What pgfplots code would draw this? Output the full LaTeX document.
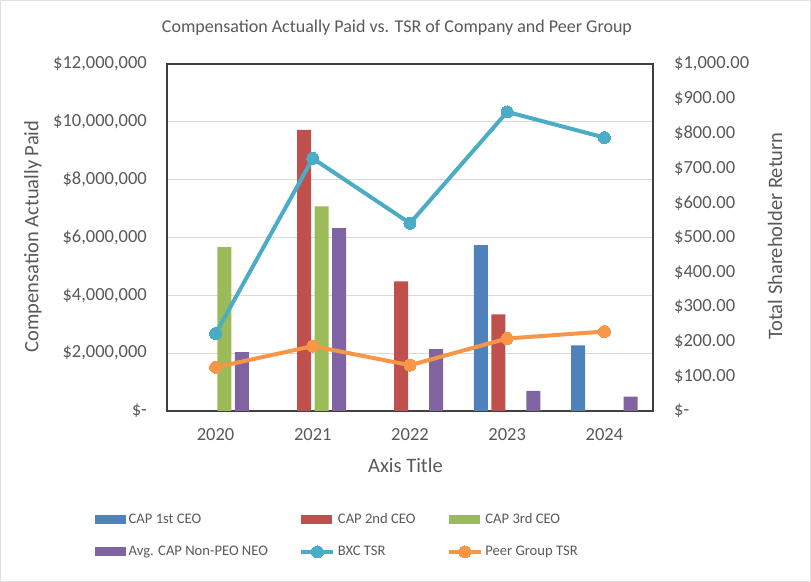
\documentclass[border=0pt]{standalone}
\usepackage{fontspec}
\setmainfont{Carlito}
\usepackage{pgfplots}
\pgfplotsset{compat=1.18}
\definecolor{cblue}{HTML}{4F81BD}
\definecolor{cred}{HTML}{C0504D}
\definecolor{cgreen}{HTML}{9BBB59}
\definecolor{cpurple}{HTML}{8064A2}
\definecolor{ccyan}{HTML}{4BACC6}
\definecolor{corange}{HTML}{F79646}
\definecolor{txt}{HTML}{595959}
\begin{document}
\begin{tikzpicture}
\pgfplotsset{
  base/.style={
    scale only axis, width=486bp, height=347bp, at={(0,0)}, anchor=south west,
    xmin=-0.5, xmax=4.5, major tick length=0pt, minor tick num=0,
    tick label style={font=\fontsize{18.5bp}{22bp}\selectfont, text=txt},
    scaled y ticks=false,
    xtick={0,1,2,3,4}, xticklabels={2020,2021,2022,2023,2024},
  },
  barleg/.style={legend image code/.code={\fill[##1] (0bp,-4.5bp) rectangle (31bp,4.5bp);}},
  lineleg/.style={legend image code/.code={\draw[mark repeat=2, mark phase=2, ##1] plot coordinates {(0bp,0bp) (16bp,0bp) (32bp,0bp)};}},
}
\begin{axis}[base,
  ymin=0, ymax=12000000,
  ytick={0,2000000,4000000,6000000,8000000,10000000,12000000},
  yticklabels={\$-,{\$2,000,000},{\$4,000,000},{\$6,000,000},{\$8,000,000},{\$10,000,000},{\$12,000,000}},
  ymajorgrids, grid style={draw=black!15, line width=1bp},
  axis line style={draw=black!75, line width=1.3bp},
  yticklabel style={anchor=east, inner sep=0pt, xshift=-20bp},
  xticklabel style={anchor=center, inner sep=0pt, yshift=-24bp},
  ybar, bar width=14bp,
]
\addplot[fill=cblue, draw=none, bar shift=-26.25bp] coordinates {(3,5740000) (4,2270000)};
\addplot[fill=cred, draw=none, bar shift=-8.75bp] coordinates {(1,9720000) (2,4480000) (3,3340000)};
\addplot[fill=cgreen, draw=none, bar shift=8.75bp] coordinates {(0,5670000) (1,7080000)};
\addplot[fill=cpurple, draw=none, bar shift=26.25bp] coordinates {(0,2040000) (1,6320000) (2,2140000) (3,700000) (4,500000)};
\end{axis}
\begin{axis}[base,
  ymin=0, ymax=1000,
  ytick={0,100,200,300,400,500,600,700,800,900,1000},
  yticklabels={\$-,\$100.00,\$200.00,\$300.00,\$400.00,\$500.00,\$600.00,\$700.00,\$800.00,\$900.00,{\$1,000.00}},
  ytick pos=right, yticklabel pos=right,
  hide x axis, axis line style={draw=none},
  yticklabel style={anchor=west, inner sep=0pt, xshift=21bp},
  legend columns=3,
  legend cell align=left,
  legend style={draw=none, fill=none, inner sep=0pt, at={(rel axis cs:0,0)}, anchor=north west,
    xshift=-72bp, yshift=-100bp, font=\fontsize{14.6bp}{18bp}\selectfont, text=txt,
    row sep=16bp, nodes={inner sep=2.5bp},
    /tikz/every even column/.append style={column sep=29bp}},
]
\addlegendimage{barleg, fill=cblue, draw=none}
\addlegendentry{CAP 1st CEO}
\addlegendimage{barleg, fill=cred, draw=none}
\addlegendentry{CAP 2nd CEO}
\addlegendimage{barleg, fill=cgreen, draw=none}
\addlegendentry{CAP 3rd CEO}
\addlegendimage{barleg, fill=cpurple, draw=none}
\addlegendentry{Avg. CAP Non-PEO NEO}
\addplot[lineleg, color=ccyan, line width=4bp, mark=*, mark size=6bp, mark options={line width=0pt, fill=ccyan, draw=ccyan}] coordinates {(0,223) (1,728) (2,541) (3,862) (4,788)};
\addlegendentry{BXC TSR}
\addplot[lineleg, color=corange, line width=4bp, mark=*, mark size=6bp, mark options={line width=0pt, fill=corange, draw=corange}] coordinates {(0,126) (1,187) (2,132) (3,209) (4,229)};
\addlegendentry{Peer Group TSR}
\end{axis}
\node[rotate=90, font=\fontsize{20.5bp}{24bp}\selectfont, text=txt] at (-134bp,174.5bp) {Compensation Actually Paid};
\node[rotate=90, font=\fontsize{20.5bp}{24bp}\selectfont, text=txt] at (608bp,175bp) {Total Shareholder Return};
\node[font=\fontsize{20.5bp}{24bp}\selectfont, text=txt] at (238.5bp,-54bp) {Axis Title};
\node[font=\fontsize{18bp}{22bp}\selectfont, text=txt] at (230bp,383bp) {Compensation Actually Paid vs. TSR of Company and Peer Group};
\draw[black!12, line width=1.5bp] (-166.25bp,-170.25bp) rectangle (643.25bp,410.25bp);
\pgfresetboundingbox
\path[use as bounding box] (-167bp,-171bp) rectangle (644bp,411bp);
\end{tikzpicture}
\end{document}
